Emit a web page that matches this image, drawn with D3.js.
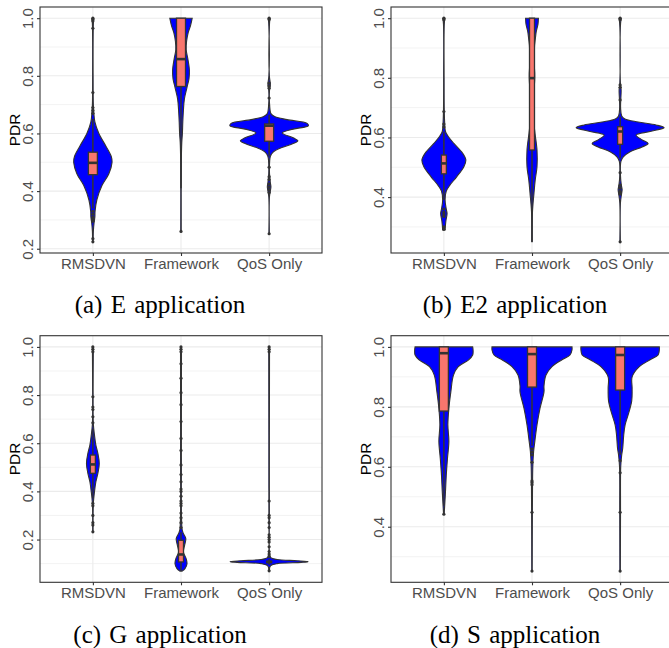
<!DOCTYPE html>
<html>
<head>
<meta charset="utf-8">
<script src="https://cdn.jsdelivr.net/npm/d3@7"></script>
<style>
  body { margin: 0; background: #fff; }
  svg { display: block; }
</style>
</head>
<body>
<div id="chart-area"></div>
<script>
// categories and captions
const categories = ["RMSDVN", "Framework", "QoS Only"];
const captions = ["(a) E application", "(b) E2 application", "(c) G application", "(d) S application"];

// major y ticks of each panel
const ticksE  = [0.2, 0.4, 0.6, 0.8, 1.0];
const ticksE2 = [0.4, 0.6, 0.8, 1.0];
const ticksG  = [0.2, 0.4, 0.6, 0.8, 1.0];
const ticksS  = [0.4, 0.6, 0.8, 1.0];

// violin profiles: [PDR, density] per category
const violinE = [
  [[0.224,0.008],[0.26,0.012],[0.29,0.03],[0.31,0.05],[0.33,0.055],[0.37,0.1],[0.42,0.23],[0.46,0.4],[0.5,0.48],[0.52,0.46],[0.555,0.33],[0.6,0.15],[0.64,0.05],[0.67,0.025],[0.7,0.012],[0.8,0.006],[0.97,0.01],[1.0,0.02]],
  [[0.26,0.006],[0.5,0.008],[0.57,0.02],[0.6,0.035],[0.64,0.045],[0.68,0.06],[0.72,0.085],[0.76,0.15],[0.79,0.2],[0.82,0.21],[0.86,0.17],[0.89,0.13],[0.92,0.14],[0.95,0.18],[0.975,0.24],[1.0,0.28]],
  [[0.252,0.006],[0.38,0.008],[0.4,0.03],[0.415,0.045],[0.43,0.03],[0.46,0.01],[0.5,0.012],[0.52,0.03],[0.535,0.1],[0.55,0.3],[0.565,0.6],[0.575,0.72],[0.585,0.6],[0.602,0.33],[0.615,0.6],[0.627,0.98],[0.635,0.95],[0.648,0.45],[0.658,0.15],[0.668,0.05],[0.7,0.012],[0.75,0.01],[0.77,0.03],[0.8,0.006],[0.97,0.006],[1.0,0.02]]
];
const violinE2 = [
  [[0.29,0.03],[0.32,0.05],[0.345,0.08],[0.36,0.06],[0.39,0.03],[0.42,0.06],[0.44,0.15],[0.468,0.32],[0.502,0.5],[0.524,0.55],[0.547,0.47],[0.58,0.25],[0.605,0.1],[0.62,0.04],[0.65,0.02],[0.69,0.01],[0.8,0.006],[0.98,0.01],[1.0,0.025]],
  [[0.25,0.006],[0.35,0.012],[0.414,0.05],[0.457,0.08],[0.502,0.125],[0.558,0.125],[0.614,0.075],[0.66,0.04],[0.726,0.035],[0.804,0.07],[0.871,0.05],[0.95,0.1],[0.98,0.15],[1.0,0.16]],
  [[0.25,0.006],[0.38,0.008],[0.41,0.035],[0.425,0.05],[0.44,0.03],[0.47,0.01],[0.52,0.02],[0.535,0.08],[0.552,0.25],[0.568,0.55],[0.58,0.7],[0.592,0.55],[0.608,0.4],[0.62,0.75],[0.633,1.1],[0.642,0.9],[0.652,0.45],[0.662,0.12],[0.672,0.04],[0.7,0.012],[0.76,0.025],[0.78,0.008],[0.97,0.006],[1.0,0.025]]
];
const violinG = [
  [[0.232,0.006],[0.35,0.012],[0.398,0.04],[0.44,0.075],[0.475,0.125],[0.516,0.16],[0.558,0.125],[0.592,0.075],[0.634,0.04],[0.68,0.012],[0.8,0.006],[1.0,0.012]],
  [[0.069,0.03],[0.079,0.1],[0.1,0.15],[0.12,0.13],[0.148,0.06],[0.176,0.09],[0.204,0.12],[0.225,0.06],[0.24,0.03],[0.3,0.012],[0.5,0.01],[1.0,0.012]],
  [[0.07,0.008],[0.09,0.03],[0.1,0.2],[0.105,0.8],[0.108,0.98],[0.112,0.7],[0.117,0.2],[0.125,0.04],[0.14,0.012],[0.3,0.006],[1.0,0.01]]
];
const violinS = [
  [[0.442,0.008],[0.47,0.02],[0.517,0.04],[0.572,0.06],[0.628,0.09],[0.684,0.125],[0.74,0.1],[0.795,0.125],[0.851,0.175],[0.906,0.24],[0.934,0.36],[0.957,0.62],[0.973,0.72],[0.99,0.73],[1.0,0.72]],
  [[0.252,0.006],[0.45,0.01],[0.6,0.02],[0.65,0.04],[0.684,0.07],[0.74,0.125],[0.795,0.2],[0.85,0.3],[0.87,0.3],[0.906,0.35],[0.934,0.5],[0.957,0.75],[0.973,0.95],[0.99,1.0],[1.0,1.0]],
  [[0.252,0.006],[0.45,0.01],[0.6,0.015],[0.64,0.04],[0.662,0.065],[0.706,0.09],[0.74,0.125],[0.773,0.2],[0.82,0.29],[0.862,0.3],[0.9,0.3],[0.934,0.48],[0.957,0.75],[0.973,0.95],[0.99,0.98],[1.0,0.98]]
];

// boxplots: [lower whisker, q1, median, q3, upper whisker]
const boxE  = [[0.34,0.457,0.498,0.535,0.65],[0.41,0.763,0.858,1.0,1.0],[0.52,0.573,0.627,0.633,0.665]];
const boxE2 = [[0.39,0.478,0.513,0.541,0.62],[0.25,0.558,0.799,1.0,1.0],[0.53,0.577,0.62,0.636,0.67]];
const boxG  = [[0.37,0.475,0.512,0.551,0.66],[0.069,0.107,0.138,0.197,0.23],[0.095,0.104,0.107,0.11,0.12]];
const boxS  = [[0.47,0.786,0.979,1.0,1.0],[0.67,0.866,0.976,1.0,1.0],[0.64,0.856,0.973,1.0,1.0]];

// outliers
const outlierE = [
  [1.0,0.995,0.99,0.965,0.742,0.69,0.68,0.67,0.33,0.32,0.31,0.305,0.3,0.295,0.235,0.224],
  [0.26],
  [1.0,0.995,0.775,0.765,0.757,0.723,0.483,0.45,0.44,0.425,0.415,0.405,0.395,0.252]
];
const outlierE2 = [
  [1.0,0.995,0.687,0.645,0.635,0.36,0.35,0.345,0.34,0.335,0.3,0.292],
  [],
  [1.0,0.995,0.776,0.768,0.726,0.482,0.44,0.43,0.42,0.415,0.41,0.25]
];
const outlierG = [
  [1.0,0.99,0.98,0.793,0.75,0.74,0.71,0.685,0.35,0.34,0.3,0.27,0.26,0.232],
  [1.0,0.99,0.98,0.93,0.87,0.81,0.76,0.69,0.62,0.57,0.51,0.47,0.44,0.41,0.4,0.38,0.36,0.35,0.34,0.31,0.29,0.27,0.25],
  [1.0,0.99,0.98,0.36,0.3,0.29,0.27,0.25,0.22,0.21,0.2,0.19,0.17,0.15,0.14,0.13,0.07]
];
const outlierS = [
  [0.442],
  [0.66,0.65,0.64,0.615,0.553,0.547,0.54,0.448,0.252],
  [0.62,0.58,0.448,0.252]
];

const panels = [
  {violins: violinE,  boxes: boxE,  outliers: outlierE,  ticks: ticksE,  left: 40,  top: 7,     h: 246,   boxW: 9, capX: 160, capY: 312.5},
  {violins: violinE2, boxes: boxE2, outliers: outlierE2, ticks: ticksE2, left: 391, top: 7,     h: 246,   boxW: 5, capX: 515, capY: 312.5},
  {violins: violinG,  boxes: boxG,  outliers: outlierG,  ticks: ticksG,  left: 40,  top: 335.7, h: 246.6, boxW: 5, capX: 160, capY: 643},
  {violins: violinS,  boxes: boxS,  outliers: outlierS,  ticks: ticksS,  left: 391, top: 335.7, h: 246.6, boxW: 9, capX: 515, capY: 643}
];

const W = 282;
const svg = d3.select("#chart-area").append("svg")
  .attr("width", 669)
  .attr("height", 648);

const wScale = d3.scaleLinear().domain([0, 1]).range([0, 40]);

panels.forEach(function(p, pi) {
  const allVals = p.violins.flat().map(d => d[0]);
  const lo = d3.min(allVals), hi = d3.max(allVals);
  const pad = (hi - lo) * 0.05;
  const y = d3.scaleLinear().domain([lo - pad, hi + pad]).range([p.h, 0]);
  const x = d3.scalePoint().domain(categories).range([0, W]).padding(0.6);

  const g = svg.append("g").attr("transform", "translate(" + p.left + "," + p.top + ")");

  // grid
  const step = p.ticks[1] - p.ticks[0];
  const minors = p.ticks.map(t => t - step / 2).concat([p.ticks[p.ticks.length - 1] + step / 2])
    .filter(t => t > y.domain()[0] && t < y.domain()[1]);
  g.selectAll(".minor").data(minors).enter().append("line")
    .attr("x1", 0).attr("x2", W)
    .attr("y1", d => y(d)).attr("y2", d => y(d))
    .attr("stroke", "#ebebeb").attr("stroke-width", 0.6);
  g.selectAll(".major").data(p.ticks).enter().append("line")
    .attr("x1", 0).attr("x2", W)
    .attr("y1", d => y(d)).attr("y2", d => y(d))
    .attr("stroke", "#ebebeb").attr("stroke-width", 1.1);
  g.selectAll(".vgrid").data(categories).enter().append("line")
    .attr("x1", d => x(d)).attr("x2", d => x(d))
    .attr("y1", 0).attr("y2", p.h)
    .attr("stroke", "#ebebeb").attr("stroke-width", 1.1);

  // violins
  categories.forEach(function(c, ci) {
    const cx = x(c);
    const area = d3.area()
      .curve(d3.curveCatmullRom)
      .y(d => y(d[0]))
      .x0(d => cx - wScale(d[1]))
      .x1(d => cx + wScale(d[1]));
    g.append("path")
      .attr("d", area(p.violins[ci]))
      .attr("fill", "#0000ff")
      .attr("stroke", "#333333")
      .attr("stroke-width", 1.1);
  });

  // boxplots
  categories.forEach(function(c, ci) {
    const cx = x(c);
    const b = p.boxes[ci];
    g.append("line")
      .attr("x1", cx).attr("x2", cx)
      .attr("y1", y(b[0])).attr("y2", y(b[4]))
      .attr("stroke", "#333333").attr("stroke-width", 1.5);
    g.append("rect")
      .attr("x", cx - p.boxW / 2).attr("width", p.boxW)
      .attr("y", y(b[3])).attr("height", Math.max(0.5, y(b[1]) - y(b[3])))
      .attr("fill", "#F8766D")
      .attr("stroke", "#333333").attr("stroke-width", 1.3);
    g.append("line")
      .attr("x1", cx - p.boxW / 2).attr("x2", cx + p.boxW / 2)
      .attr("y1", y(b[2])).attr("y2", y(b[2]))
      .attr("stroke", "#333333").attr("stroke-width", 2.6);
    g.selectAll(".out" + ci).data(p.outliers[ci]).enter().append("circle")
      .attr("cx", cx).attr("cy", d => y(d))
      .attr("r", 1.6).attr("fill", "#333333");
  });

  // frame
  g.append("rect")
    .attr("x", 0).attr("y", 0).attr("width", W).attr("height", p.h)
    .attr("fill", "none").attr("stroke", "#333333").attr("stroke-width", 1.1);

  // axes
  const axY = g.append("g").call(d3.axisLeft(y).tickValues(p.ticks).tickSize(3).tickFormat(d3.format(".1f")));
  axY.select(".domain").remove();
  axY.selectAll(".tick line").attr("stroke", "#333333").attr("stroke-width", 1.1);
  axY.selectAll(".tick text")
    .attr("x", 0).attr("y", -7).attr("dy", 0)
    .attr("transform", "rotate(-90)")
    .attr("text-anchor", "middle")
    .attr("fill", "#4d4d4d")
    .style("font-family", "'Liberation Sans', Arial, sans-serif")
    .style("font-size", "15px");

  const axX = g.append("g").attr("transform", "translate(0," + p.h + ")")
    .call(d3.axisBottom(x).tickSize(3).tickPadding(2));
  axX.select(".domain").remove();
  axX.selectAll(".tick line").attr("stroke", "#333333").attr("stroke-width", 1.1);
  axX.selectAll(".tick text")
    .attr("fill", "#4d4d4d")
    .style("font-family", "'Liberation Sans', Arial, sans-serif")
    .style("font-size", "15px");

  g.append("text")
    .attr("transform", "translate(-20," + (p.h / 2) + ") rotate(-90)")
    .attr("text-anchor", "middle")
    .attr("fill", "#000")
    .style("font-family", "'Liberation Sans', Arial, sans-serif")
    .style("font-size", "15.5px")
    .text("PDR");

  svg.append("text")
    .attr("x", p.capX).attr("y", p.capY)
    .attr("text-anchor", "middle")
    .attr("fill", "#000")
    .style("font-family", "'Liberation Serif', 'Times New Roman', serif")
    .style("font-size", "25px")
    .style("word-spacing", "2px")
    .text(captions[pi]);
});
</script>
</body>
</html>
